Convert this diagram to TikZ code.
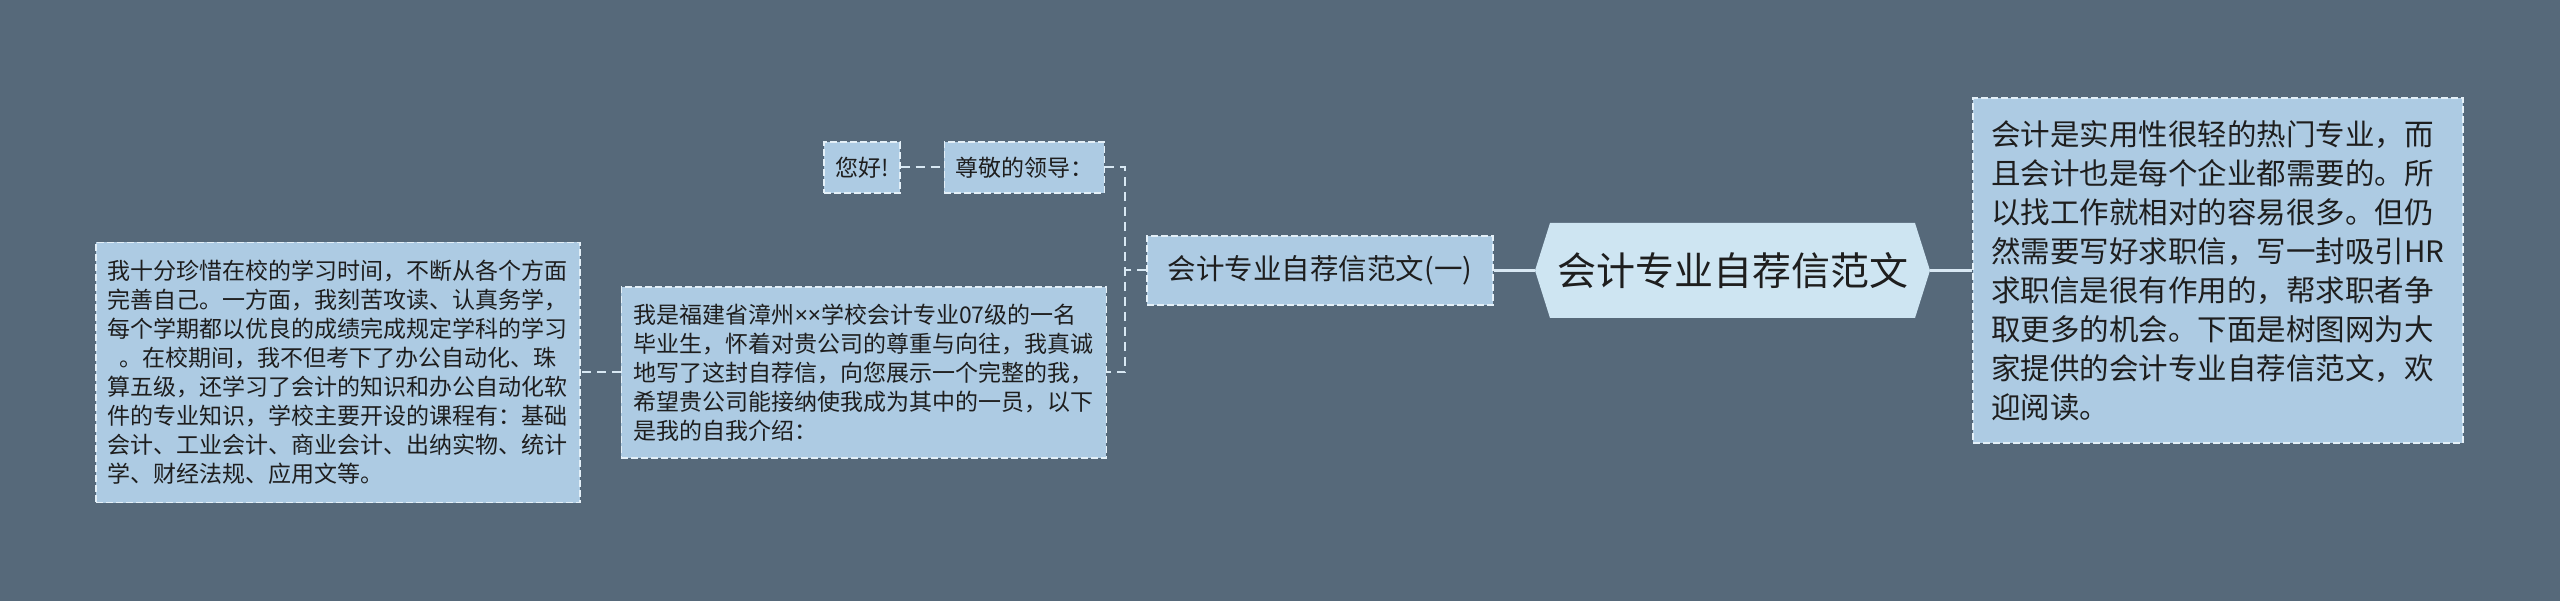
\documentclass[tikz,border=0pt]{standalone}
\usepackage{fontspec}
\setmainfont{Noto Sans CJK SC}
\newfontfamily\latinfont{Noto Sans}
\usepackage{tikz}
\usetikzlibrary{positioning}
\usepackage{xcolor}
\definecolor{bgcol}{HTML}{56697A}
\definecolor{leaffill}{HTML}{ADCBE3}
\definecolor{rootfill}{HTML}{CEE5F2}
\definecolor{edgecol}{HTML}{E4F0F8}
\definecolor{linecol}{HTML}{D8E8F3}
\definecolor{txtcol}{HTML}{1E1E1E}

\begin{document}
\begin{tikzpicture}[x=1pt, y=-1pt,
    leafbox/.style={rectangle, draw=edgecol, dash pattern=on 7pt off 3pt,
                    line width=1.4pt, fill=leaffill, text=txtcol, align=left,
                    inner sep=0pt, font=\fontsize{23}{29}\selectfont},
    branchbox/.style={leafbox, minimum width=346pt, minimum height=69pt,
                      font=\fontsize{28.5}{34}\selectfont},
    rootbox/.style={rectangle, fill=bgcol, text=txtcol, inner sep=0pt,
                    minimum width=395pt, minimum height=95pt,
                    font=\fontsize{39}{46}\selectfont,
                    path picture={\fill[rootfill] (path picture bounding box.west)
                      -- ([xshift=15pt]path picture bounding box.north west)
                      -- ([xshift=-15pt]path picture bounding box.north east)
                      -- (path picture bounding box.east)
                      -- ([xshift=-15pt]path picture bounding box.south east)
                      -- ([xshift=15pt]path picture bounding box.south west) -- cycle;}},
    trunk/.style={draw=linecol, line width=3.5pt},
    conn/.style={draw=linecol, line width=2pt, dash pattern=on 9pt off 6pt}
]
    \fill[bgcol] (0,0) rectangle (2560,601);
    \useasboundingbox (0,0) rectangle (2560,601);

    \node[rootbox] (root) at (1732.5,270.5) {会计专业自荐信范文};
    \node[leafbox, right=42pt of root, minimum width=490pt, minimum height=345pt,
          font=\fontsize{29.5}{39}\selectfont] (about) {会计是实用性很轻的热门专业，而\\
且会计也是每个企业都需要的。所\\
以找工作就相对的容易很多。但仍\\
然需要写好求职信，写一封吸引HR\\
求职信是很有作用的，帮求职者争\\
取更多的机会。下面是树图网为大\\
家提供的会计专业自荐信范文，欢\\
迎阅读。};
    \node[branchbox, left=41pt of root] (sample) {会计专业自荐信范文(一)};
    \coordinate[left=21pt of sample.west] (fork);

    \node[leafbox, anchor=east, minimum width=160pt, minimum height=51pt] (lead) at (1105,167.5) {尊敬的领导：};
    \node[leafbox, left=43pt of lead, minimum width=76pt, minimum height=51pt] (hello) {您好!};
    \node[leafbox, anchor=east, minimum width=485pt, minimum height=171pt] (intro) at (1107,372.5) {我是福建省漳州{\latinfont ××}学校会计专业07级的一名\\
毕业生，怀着对贵公司的尊重与向往，我真诚\\
地写了这封自荐信，向您展示一个完整的我，\\
希望贵公司能接纳使我成为其中的一员，以下\\
是我的自我介绍：};
    \node[leafbox, left=40pt of intro, minimum width=484pt, minimum height=260pt] (study) {我十分珍惜在校的学习时间，不断从各个方面\\
完善自己。一方面，我刻苦攻读、认真务学，\\
每个学期都以优良的成绩完成规定学科的学习\\
\hspace*{0.5em}。在校期间，我不但考下了办公自动化、珠\\
算五级，还学习了会计的知识和办公自动化软\\
件的专业知识，学校主要开设的课程有：基础\\
会计、工业会计、商业会计、出纳实物、统计\\
学、财经法规、应用文等。};

    % links
    \draw[trunk] (root.west) -- (sample.east);
    \draw[trunk] (root.east) -- (about.west);
    \draw[conn] (sample.west) -- (fork);
    \draw[conn] (lead.east) -| (fork) |- (intro.east);
    \draw[conn] (hello.east) -- (lead.west);
    \draw[conn] (intro.west) -- (study.east);
\end{tikzpicture}
\end{document}
